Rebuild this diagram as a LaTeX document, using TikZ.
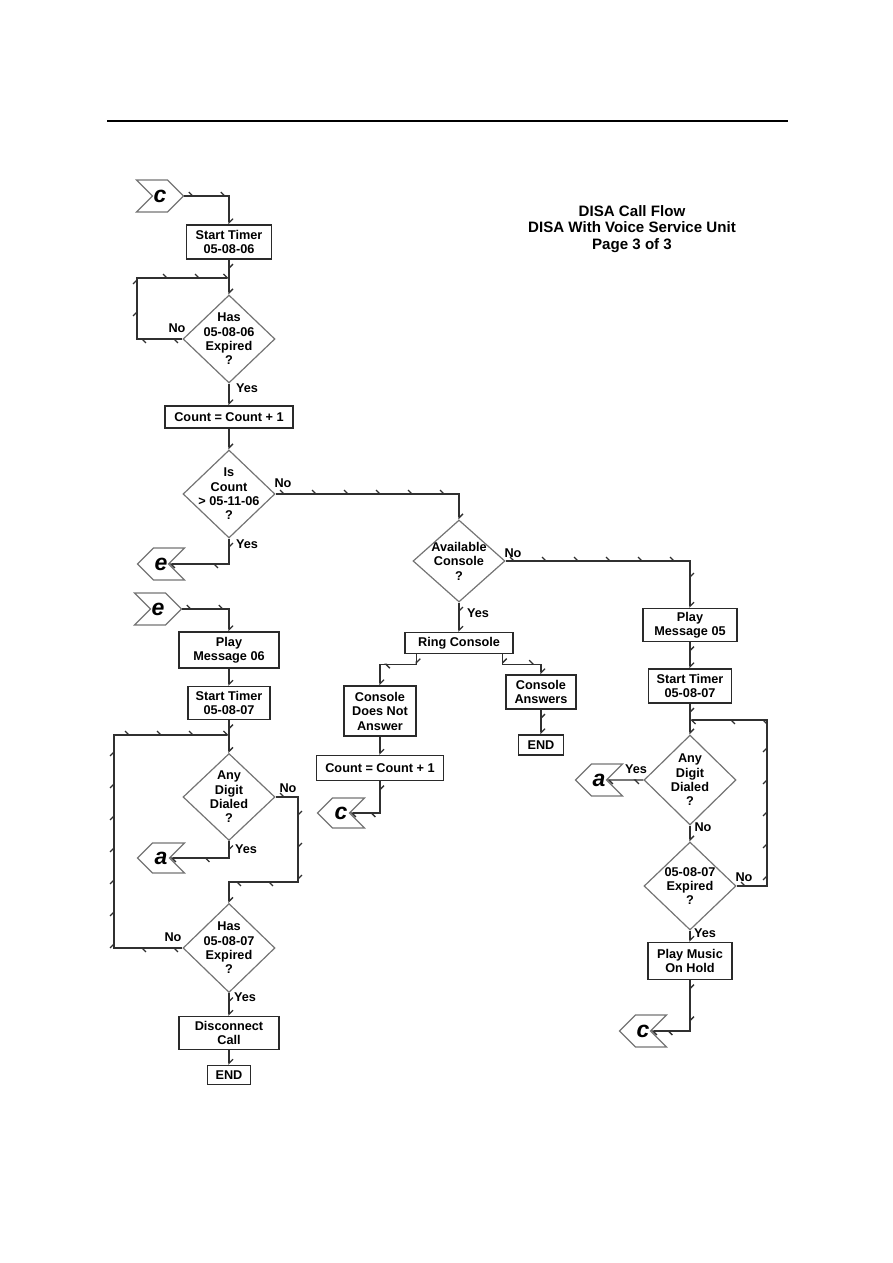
\documentclass[tikz,border=0pt]{standalone}
\usepackage{fontspec}
\setmainfont{Liberation Sans}
\usetikzlibrary{calc,positioning,decorations.markings,arrows.meta,shapes.geometric,shapes.symbols}
\definecolor{FlowLine}{HTML}{303030}
\definecolor{DiamondGray}{HTML}{747474}
\definecolor{BoxLine}{HTML}{2A2A2A}

\tikzset{
  stepbox/.style={draw=BoxLine, line width=1.4pt, align=center, inner sep=0pt,
    font=\bfseries\fontsize{12.7}{14.5}\selectfont},
  decide/.style={diamond, draw=DiamondGray, line width=1.2pt, align=center, inner sep=-20pt,
    minimum width=92pt, minimum height=88pt, font=\bfseries\fontsize{12.7}{14.4}\selectfont},
  goin/.style={signal, signal to=east, signal from=west, draw=DiamondGray, line width=1.2pt,
    minimum width=47pt, minimum height=32pt, inner sep=0pt,
    font=\bfseries\itshape\fontsize{23}{23}\selectfont},
  goout/.style={signal, signal to=west, signal from=east, draw=DiamondGray, line width=1.2pt,
    minimum width=47pt, minimum height=32pt, inner sep=0pt,
    font=\bfseries\itshape\fontsize{23}{23}\selectfont},
  answer/.style={inner sep=0pt, font=\bfseries\fontsize{12.7}{14}\selectfont},
  flow/.style={draw=FlowLine, line width=1.3pt, -{Straight Barb[harpoon,length=4pt,width=8pt]},
    postaction={decorate}, decoration={markings,
      mark=between positions 10pt and -12pt step 32pt with {\arrow{Straight Barb[harpoon,length=4pt,width=8pt]}}}},
}

\begin{document}
\begin{tikzpicture}[x=1pt, y={(0,-1pt)}]
  \useasboundingbox (0,0) rectangle (893,1263);
  \draw[line width=1.6pt] (107,121) -- (788,121);

  % title
  \node[align=center, font=\bfseries\fontsize{15.1}{16.5}\selectfont] (title) at (632,229)
    {DISA Call Flow\\DISA With Voice Service Unit\\Page 3 of 3};

  % left column
  \node[goin] (cin1) at (160,196) {c};
  \node[stepbox, minimum width=85pt, minimum height=34pt] (timer1) at (229,242) {Start Timer\\05-08-06};
  \node[decide] (exp1) at (229,339) {Has\\05-08-06\\Expired\\?};
  \node[stepbox, minimum width=128pt, minimum height=22pt] (count1) at (229,417) {Count = Count + 1};
  \node[decide] (max) at (229,494) {Is\\Count\\> 05-11-06\\?};
  \node[goout] (eout) at (161,564) {e};
  \node[goin] (ein) at (158,609) {e};
  \node[stepbox, minimum width=100pt, minimum height=36pt] (msg06) at (229,650) {Play\\Message 06};
  \node[stepbox, minimum width=82pt, minimum height=33pt] (timer2) at (229,703) {Start Timer\\05-08-07};
  \node[decide, minimum height=87pt] (dial1) at (229,797) {Any\\Digit\\Dialed\\?};
  \node[goout, minimum height=30pt] (aout1) at (161,858) {a};
  \node[decide, minimum height=89pt] (exp2) at (229,948) {Has\\05-08-07\\Expired\\?};
  \node[stepbox, minimum width=100pt, minimum height=33pt] (disc) at (229,1033) {Disconnect\\Call};
  \node[stepbox, minimum width=43pt, minimum height=19pt] (end1) at (229,1075) {END};

  % middle column
  \node[decide, minimum height=82pt] (avail) at (459,561) {Available\\Console\\?};
  \node[stepbox, minimum width=108pt, minimum height=21pt] (ring) at (459,643) {Ring Console};
  \node[stepbox, minimum width=72pt, minimum height=50pt] (noans) at (380,711) {Console\\Does Not\\Answer};
  \node[stepbox, minimum width=127pt, minimum height=25pt] (count2) at (380,768) {Count = Count + 1};
  \node[goout, minimum height=30pt] (cout2) at (341,813) {c};
  \node[stepbox, minimum width=70pt, minimum height=34pt] (ans) at (541,692) {Console\\Answers};
  \node[stepbox, minimum width=45pt, minimum height=20pt] (end2) at (541,745) {END};

  % right column
  \node[stepbox, minimum width=94pt, minimum height=33pt] (msg05) at (690,625) {Play\\Message 05};
  \node[stepbox, minimum width=83pt, minimum height=34pt] (timer3) at (690,686) {Start Timer\\05-08-07};
  \node[decide, minimum height=90pt] (dial2) at (690,780) {Any\\Digit\\Dialed\\?};
  \node[goout] (aout2) at (599,780) {a};
  \node[decide] (exp3) at (690,886) {05-08-07\\Expired\\?};
  \node[stepbox, minimum width=84pt, minimum height=37pt] (moh) at (690,961) {Play Music\\On Hold};
  \node[goout] (cout3) at (643,1031) {c};

  % loop corners
  \coordinate (loop1) at (137,278);
  \coordinate (join1) at (229,278);
  \coordinate (loop2) at (114,735);
  \coordinate (join2) at (229,735);
  \coordinate (skip1) at (298,882);
  \coordinate (loop3) at (767,720);
  \coordinate (join3) at (690,720);

  % answers
  \node[answer] (no1) at (177,328) {No};
  \node[answer] (yes1) at (247,388) {Yes};
  \node[answer] (no2) at (283,483) {No};
  \node[answer] (yes2) at (247,544) {Yes};
  \node[answer] (no3) at (288,788) {No};
  \node[answer] (yes3) at (246,849) {Yes};
  \node[answer] (no4) at (173,937) {No};
  \node[answer] (yes4) at (245,997) {Yes};
  \node[answer] (no5) at (513,553) {No};
  \node[answer] (yes5) at (478,613) {Yes};
  \node[answer] (yes6) at (636,769) {Yes};
  \node[answer] (no6) at (703,827) {No};
  \node[answer] (no7) at (744,877) {No};
  \node[answer] (yes7) at (705,933) {Yes};

  % connectors
  \draw[flow] (cin1) -| (timer1.north);
  \draw[flow] (timer1) -- (exp1);
  \draw[flow] (exp1.west) -| (loop1) -- (join1);
  \draw[flow] (exp1) -- (count1);
  \draw[flow] (count1) -- (max);
  \draw[flow] (max.east) -| (avail.north);
  \draw[flow] (max.south) |- (eout);
  \draw[flow] (ein) -| (msg06.north);
  \draw[flow] (msg06) -- (timer2);
  \draw[flow] (timer2) -- (dial1);
  \draw[flow] (exp2.west) -| (loop2) -- (join2);
  \draw[flow] (dial1.east) -| (skip1) -| (exp2.north);
  \draw[flow] (dial1.south) |- (aout1);
  \draw[flow] (exp2) -- (disc);
  \draw[flow] (disc) -- (end1);
  \draw[flow] (avail.east) -| (msg05.north);
  \draw[flow] (avail) -- (ring);
  \draw[flow] ([xshift=12pt]ring.south west) -- ++(0,10) -| (noans.north);
  \draw[flow] ([xshift=-11pt]ring.south east) -- ++(0,10) -| (ans.north);
  \draw[flow] (noans) -- (count2);
  \draw[flow] (count2.south) |- (cout2);
  \draw[flow] (ans) -- (end2);
  \draw[flow] (msg05) -- (timer3);
  \draw[flow] (timer3) -- (dial2);
  \draw[flow] (exp3.east) -| (loop3) -- (join3);
  \draw[flow] (dial2) -- (aout2);
  \draw[flow] (dial2) -- (exp3);
  \draw[flow] (exp3) -- (moh);
  \draw[flow] (moh.south) |- (cout3);
\end{tikzpicture}
\end{document}
